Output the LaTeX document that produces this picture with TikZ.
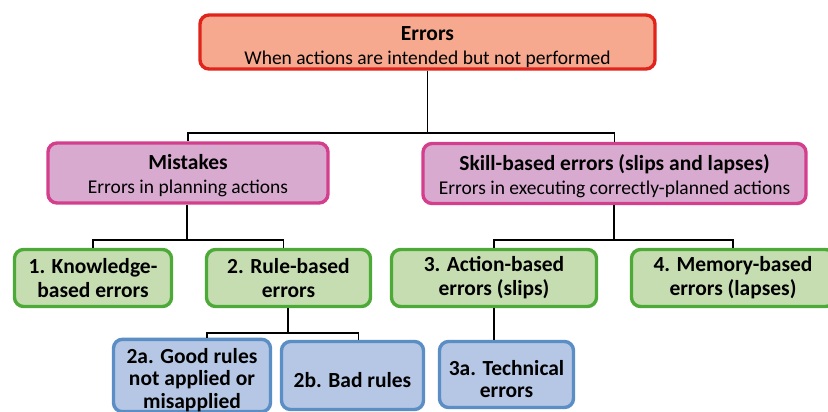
\documentclass[tikz,border=0pt]{standalone}
\usepackage{fontspec}
\setmainfont{Carlito}
\usepackage{tikz}

\definecolor{errline}{HTML}{E0241B}
\definecolor{errfill}{HTML}{F6A98F}
\definecolor{mistline}{HTML}{D43F8D}
\definecolor{mistfill}{HTML}{D9AAD0}
\definecolor{typeline}{HTML}{4DAA38}
\definecolor{typefill}{HTML}{C6DDB2}
\definecolor{subline}{HTML}{5A8EC4}
\definecolor{subfill}{HTML}{B5C7E4}

\newcommand{\headtext}[1]{{\fontsize{21.5}{24}\selectfont\bfseries #1}}
\newcommand{\dropstrut}[1][24pt]{\rule{0pt}{#1}}

\tikzset{
  box/.style={draw, rounded corners=9pt, line width=3.4pt, align=center,
    inner sep=0pt, font=\fontsize{19.5}{24}\selectfont},
  errbox/.style={box, draw=errline, fill=errfill},
  mistbox/.style={box, draw=mistline, fill=mistfill},
  typebox/.style={box, draw=typeline, fill=typefill, font=\fontsize{21.5}{24}\selectfont\bfseries},
  subbox/.style={box, draw=subline, fill=subfill, font=\fontsize{21.5}{22.5}\selectfont\bfseries},
  link/.style={draw=black, line width=1.8pt}
}

\begin{document}
\begin{tikzpicture}[x=1pt,y=-1pt]

    % page
    \useasboundingbox[fill=white] (0,0) rectangle (828,412);

    % top level
    \node[errbox, minimum width=455, minimum height=54] (err) at (427.5,42)
      {\dropstrut\headtext{Errors}\\When actions are intended but not performed};

    % second level
    \node[mistbox, minimum width=280, minimum height=60] (mist) at (188,173)
      {\dropstrut[21pt]\headtext{Mistakes}\\Errors in planning actions};
    \node[mistbox, minimum width=383, minimum height=60] (skill) at (614.5,173.5)
      {\dropstrut[21pt]\headtext{Skill-based errors (slips and lapses)}\\Errors in executing correctly-planned actions};

    % third level
    \node[typebox, minimum width=157, minimum height=57] (know) at (93,278)
      {1. Knowledge-\\based errors};
    \node[typebox, minimum width=164, minimum height=57] (rule) at (288.5,278)
      {2. Rule-based\\errors};
    \node[typebox, minimum width=205, minimum height=57] (action) at (494,278)
      {3. Action-based\\errors (slips)};
    \node[typebox, minimum width=203, minimum height=57] (memory) at (733,278)
      {4. Memory-based\\errors (lapses)};

    % fourth level
    \node[subbox, minimum width=157, minimum height=68] (good) at (192,375.5)
      {\dropstrut2a. Good rules\\not applied or\\misapplied};
    \node[subbox, minimum width=142, minimum height=68] (bad) at (352.5,375.5)
      {\dropstrut2b. Bad rules};
    \node[subbox, minimum width=134, minimum height=66] (tech) at (506.5,374.5)
      {\dropstrut3a. Technical\\errors};

    % junctions
    \coordinate (j1) at (427.5,133);
    \coordinate (j2) at (187,240);
    \coordinate (j3) at (614,240);
    \coordinate (j4) at (288,333);

    % lines
    \draw[link] (err.south) -- (j1);
    \draw[link] (j1) -| (mist.north);
    \draw[link] (j1) -| (skill.north);
    \draw[link] (mist.south -| j2) -- (j2);
    \draw[link] (j2) -| (know.north);
    \draw[link] (j2) -| ([xshift=-5pt]rule.north);
    \draw[link] (skill.south -| j3) -- (j3);
    \draw[link] (j3) -| (action.north);
    \draw[link] (j3) -| (memory.north);
    \draw[link] (rule.south -| j4) -- (j4);
    \draw[link] (j4) -| ([xshift=15pt]good.north);
    \draw[link] (j4) -| ([xshift=6pt]bad.north);
    \draw[link] (action.south) -- (action.south |- tech.north);
\end{tikzpicture}
\end{document}
